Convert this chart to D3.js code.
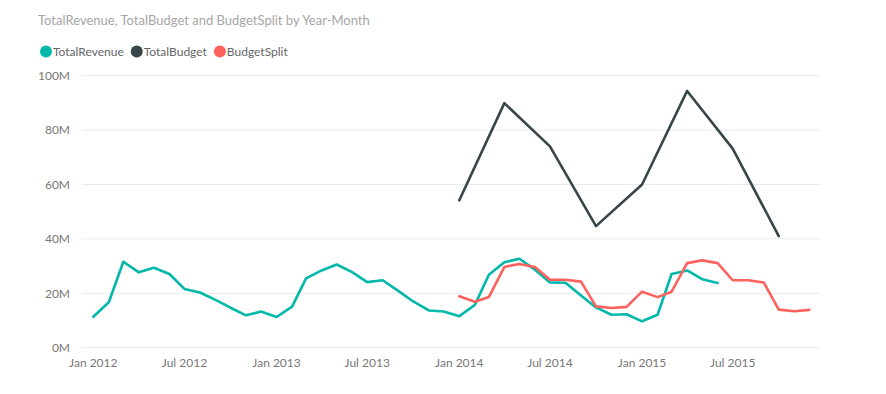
<!DOCTYPE html>
<html>
<head>
<meta charset="utf-8">
<script src="https://cdn.jsdelivr.net/npm/d3@7"></script>
<style>
  body { margin: 0; background: #fff; }
  svg { font-family: "Segoe UI", Lato, sans-serif; }
</style>
</head>
<body>
<svg id="chart" width="886" height="394"></svg>
<script>
// series, one value per month (millions)
var revenueStart = "2012-01";
var revenue = [11.4, 16.7, 31.6, 27.7, 29.4, 27.1, 21.6, 20.3, 17.6, 14.7, 11.9, 13.3,
               11.3, 15.1, 25.5, 28.4, 30.6, 27.8, 24.1, 24.8, 20.9, 17.0, 13.7, 13.3,
               11.6, 15.7, 26.8, 31.4, 32.7, 28.7, 24.0, 23.9, 19.2, 14.8, 12.1, 12.3,
               9.7, 12.1, 27.1, 28.4, 25.2, 23.8];

// quarterly budget
var budgetStart = "2014-01";
var budget = [54.2, 89.9, 74.0, 44.7, 60.0, 94.4, 73.2, 41.0];

var splitStart = "2014-01";
var split = [18.9, 16.9, 18.6, 29.7, 30.8, 29.7, 25.0, 25.0, 24.3, 15.2, 14.6, 15.0,
             20.6, 18.6, 20.6, 31.1, 32.1, 31.1, 24.8, 24.8, 24.0, 14.0, 13.4, 13.9];

var seriesNames = ["TotalRevenue", "TotalBudget", "BudgetSplit"];
var seriesColors = ["#01B8AA", "#374649", "#FD625E"];
var yTicks = [0, 20, 40, 60, 80, 100];
var xTicks = ["2012-01", "2012-07", "2013-01", "2013-07", "2014-01", "2014-07", "2015-01", "2015-07"];

var parse = d3.timeParse("%Y-%m");

function toPoints(start, values, step) {
  var d0 = parse(start);
  return values.map(function(v, i) {
    return { date: d3.timeMonth.offset(d0, i * step), value: v };
  });
}

var series = [
  toPoints(revenueStart, revenue, 1),
  toPoints(budgetStart, budget, 3),
  toPoints(splitStart, split, 1)
];

var svg = d3.select("#chart");

var x = d3.scaleTime()
    .domain([parse("2012-01"), parse("2015-12")])
    .range([93.3, 809.3]);

var y = d3.scaleLinear()
    .domain([0, 100])
    .range([347.7, 75.7]);

// title
svg.append("text")
    .attr("x", 38).attr("y", 25)
    .attr("fill", "#a6a6a6")
    .style("font-size", "13px")
    .text("TotalRevenue, TotalBudget and BudgetSplit by Year-Month");

// legend, laid out left to right from text widths
var legend = svg.append("g").attr("transform", "translate(0,51.5)");
var lx = 46;
seriesNames.forEach(function(name, i) {
  var g = legend.append("g").attr("transform", "translate(" + lx + ",0)");
  g.append("circle").attr("r", 6).attr("fill", seriesColors[i]);
  var t = g.append("text")
      .attr("x", 7).attr("dy", "0.35em")
      .attr("fill", "#666")
      .style("font-size", "12px")
      .text(name);
  lx += 7 + t.node().getComputedTextLength() + 13;
});

// gridlines + y labels
var yAxis = svg.append("g");
yAxis.selectAll("line")
    .data(yTicks)
    .enter().append("line")
    .attr("x1", 82).attr("x2", 820)
    .attr("y1", function(d) { return y(d); })
    .attr("y2", function(d) { return y(d); })
    .attr("stroke", "#eaeaea")
    .attr("stroke-width", 1);
yAxis.selectAll("text")
    .data(yTicks)
    .enter().append("text")
    .attr("x", 70)
    .attr("y", function(d) { return y(d); })
    .attr("dy", "0.35em")
    .attr("text-anchor", "end")
    .attr("fill", "#777")
    .style("font-size", "12px")
    .text(function(d) { return d + "M"; });

// x labels
var fmt = d3.timeFormat("%b %Y");
svg.append("g").selectAll("text")
    .data(xTicks)
    .enter().append("text")
    .attr("x", function(d) { return x(parse(d)); })
    .attr("y", 367)
    .attr("text-anchor", "middle")
    .attr("fill", "#777")
    .style("font-size", "12px")
    .text(function(d) { return fmt(parse(d)); });

// lines
var line = d3.line()
    .x(function(d) { return x(d.date); })
    .y(function(d) { return y(d.value); });

svg.append("g").selectAll("path")
    .data(series)
    .enter().append("path")
    .attr("d", line)
    .attr("fill", "none")
    .attr("stroke", function(d, i) { return seriesColors[i]; })
    .attr("stroke-width", 2.6)
    .attr("stroke-linejoin", "round")
    .attr("stroke-linecap", "round");
</script>
</body>
</html>
